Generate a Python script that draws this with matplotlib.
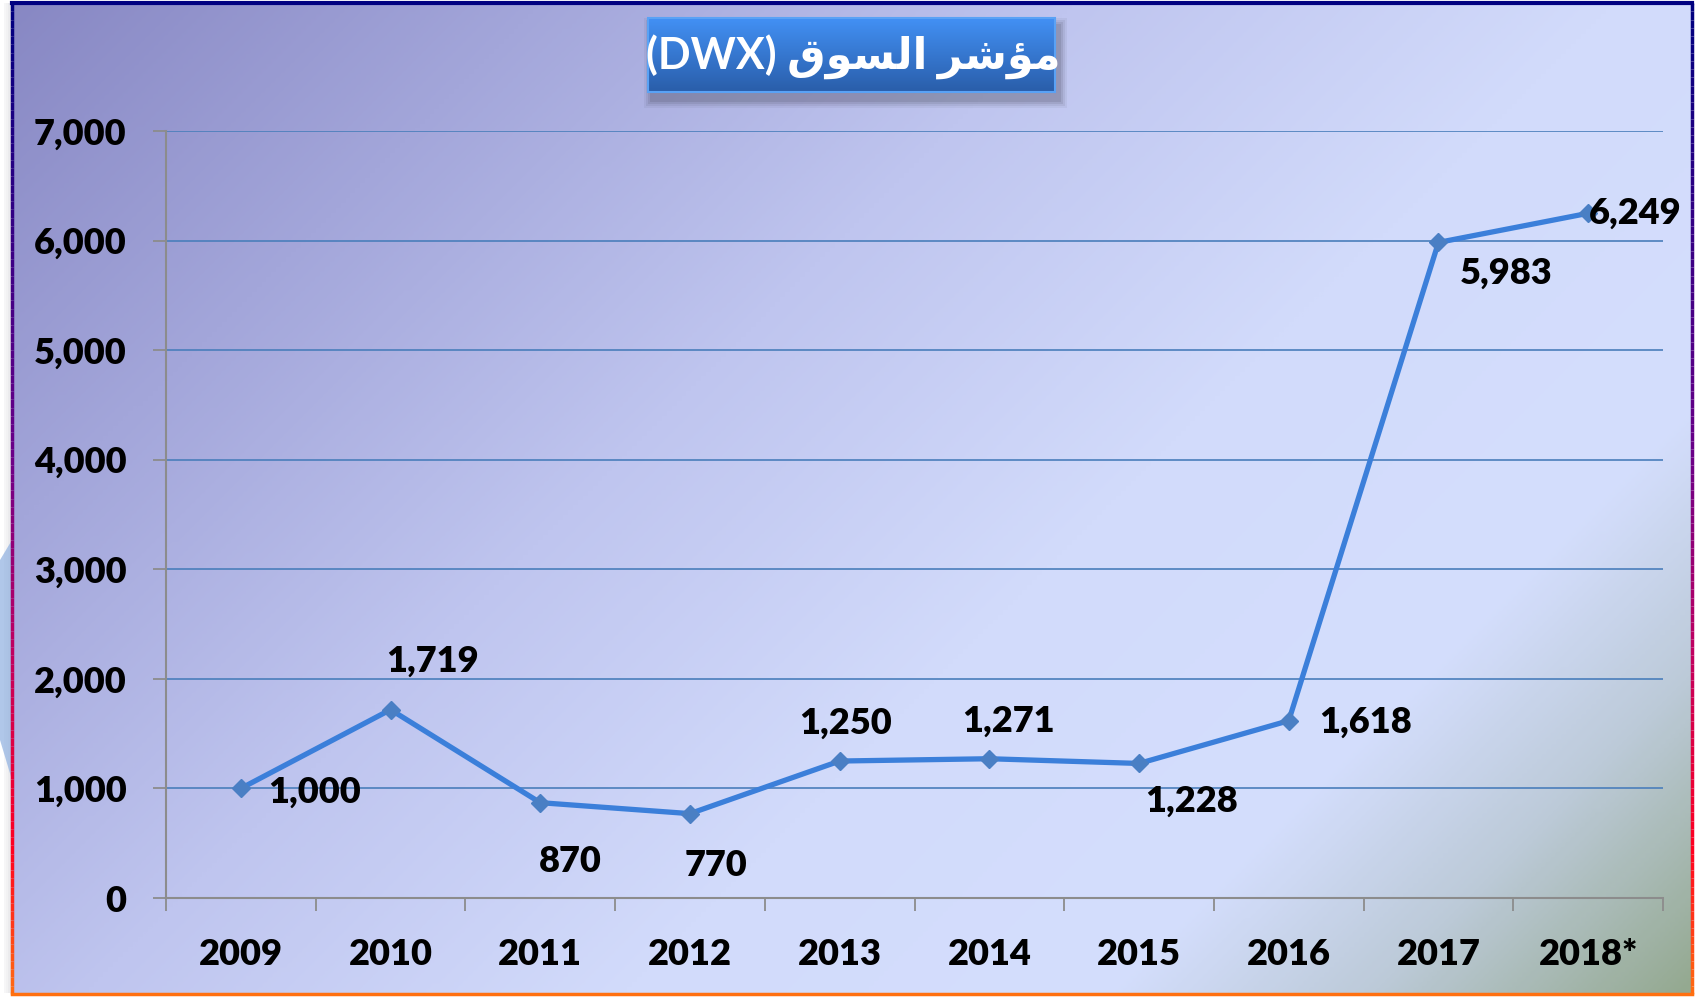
import numpy as np
import matplotlib.pyplot as plt
from matplotlib.colors import LinearSegmentedColormap
from matplotlib.collections import LineCollection
from matplotlib.patches import Rectangle, Polygon
import matplotlib.ticker as mticker

# --- data ---
years = ['2009', '2010', '2011', '2012', '2013', '2014', '2015', '2016', '2017', '2018*']
index_values = [1000, 1719, 870, 770, 1250, 1271, 1228, 1618, 5983, 6249]
# label offsets in points (dx, dy) relative to each marker
label_offsets = [(53, -3), (30, 35), (22, -42), (19, -37), (4, 27),
                 (14, 27), (38, -27), (55, -1), (49, -22), (34, 0)]

# title: "مؤشر السوق (DWX)" written in visual order with Arabic presentation forms
title_text = '(DWX) ' + '\uFED5\uFEEE\uFEB4\uFEDF\uFE8D' + ' ' + '\uFEAE\uFEB7\uFE86\uFEE3'

W, H = 1700, 997
fig = plt.figure(figsize=(17, 9.97), dpi=100, facecolor='white')

# background axes in pixel coords
bg = fig.add_axes([0, 0, 1, 1], zorder=0)
bg.axis('off')

bg_cmap = LinearSegmentedColormap.from_list('bg', [
    (0.0, '#8787c3'), (0.2, '#a3a6da'), (0.4, '#bfc5ef'), (0.6, '#d2dbfb'),
    (0.78, '#d4defd'), (0.88, '#bccad8'), (1.0, '#93a88e')])
xs = np.linspace(12, 1692, 340)
ys = np.linspace(3, 994, 200)
gx, gy = np.meshgrid(xs, ys)
t = (gx + gy) / (W + H)
bg.imshow(bg_cmap(t), extent=(12, 1692, 994, 3), aspect='auto',
          interpolation='bilinear', zorder=0)

# faint shadow / blue smear at the left edge
for i, a in enumerate([0.05, 0.08, 0.12, 0.16]):
    bg.add_patch(Rectangle((4 + 2 * i, 3), 2, 990, color='#606070', alpha=a, lw=0))
bg.add_patch(Polygon([(0, 560), (12, 540), (12, 780), (0, 740)], closed=True,
                     color='#8fb0e0', alpha=0.7, lw=0))

# gradient border
border_cmap = LinearSegmentedColormap.from_list('border', [
    (0.0, '#000080'), (0.45, '#6a0088'), (0.65, '#c00060'), (0.85, '#ff0020'), (1.0, '#ff7010')])
n = 120
yy = np.linspace(3, 994, n + 1)
segs, cols = [], []
for x0 in (12, 1692):
    for k in range(n):
        segs.append([(x0, yy[k]), (x0, yy[k + 1])])
        cols.append(border_cmap(k / n))
bg.add_collection(LineCollection(segs, colors=cols, linewidths=2.5))
bg.plot([12, 1692], [3, 3], color='#000080', lw=3)
bg.plot([12, 1692], [994, 994], color='#ff7010', lw=2.5)

# title box with shadow
for k, a in enumerate([0.06, 0.08, 0.1, 0.12]):
    d = 8 - 2 * k
    bg.add_patch(Rectangle((648 - d + 4, 18 - d + 8), 407 + 2 * d, 74 + 2 * d,
                           color='#303040', alpha=a, lw=0, zorder=1))
box_cmap = LinearSegmentedColormap.from_list('box', ['#4290f4', '#2a5eaa'])
bg.imshow(box_cmap(np.linspace(0, 1, 60))[:, None, :], extent=(648, 1055, 92, 18),
          aspect='auto', interpolation='bilinear', zorder=2)
bg.add_patch(Rectangle((648, 18), 407, 74, fill=False, ec='#5aa2f5', lw=1.5, zorder=3))
bg.text(853, 57, title_text, color='white', fontsize=31, fontweight='bold',
        family=['Lato', 'DejaVu Sans'], ha='center', va='center', zorder=4)
bg.set_xlim(0, W)
bg.set_ylim(H, 0)

# --- main chart ---
ax = fig.add_axes([166 / W, 1 - 898 / H, (1663 - 166) / W, (898 - 131) / H], zorder=1)
ax.set_facecolor('none')

x = np.arange(len(years))
ax.plot(x, index_values, color='#3b7fda', lw=3.8, marker='D', ms=9.5,
        mfc='#4a7fc4', mec='#4a7fc4', zorder=3, solid_joinstyle='round')

for i, (v, off) in enumerate(zip(index_values, label_offsets)):
    ax.annotate(f'{v:,}', (i, v), xytext=off, textcoords='offset points',
                ha='center', va='center', fontsize=26, fontweight='heavy', family='Lato',
                color='black', zorder=4)

ax.set_xlim(-0.5, len(years) - 0.5)
ax.set_ylim(0, 7000)
ax.yaxis.set_major_locator(mticker.MultipleLocator(1000))
ax.yaxis.set_major_formatter(mticker.FuncFormatter(lambda v, p: f'{v:,.0f}'))
ax.yaxis.grid(True, color='#4a7ebb', lw=1.2)
ax.set_axisbelow(True)

ax.set_xticks(np.arange(-0.5, len(years), 1))
ax.set_xticklabels([])
ax.set_xticks(x, minor=True)
ax.set_xticklabels(years, minor=True)

for s in ('top', 'right'):
    ax.spines[s].set_visible(False)
for s in ('left', 'bottom'):
    ax.spines[s].set_color('#8c8c8c')
    ax.spines[s].set_linewidth(1.5)

ax.tick_params(axis='x', which='major', length=9.4, width=1.3, color='#8c8c8c')
ax.tick_params(axis='x', which='minor', length=0, pad=29)
ax.tick_params(axis='y', length=9.4, width=1.3, color='#8c8c8c', pad=19)
for lab in ax.get_xticklabels(minor=True) + ax.get_yticklabels():
    lab.set_fontsize(26)
    lab.set_fontweight('heavy')
    lab.set_family('Lato')

fig.savefig('out.png', dpi=100, facecolor='white')
